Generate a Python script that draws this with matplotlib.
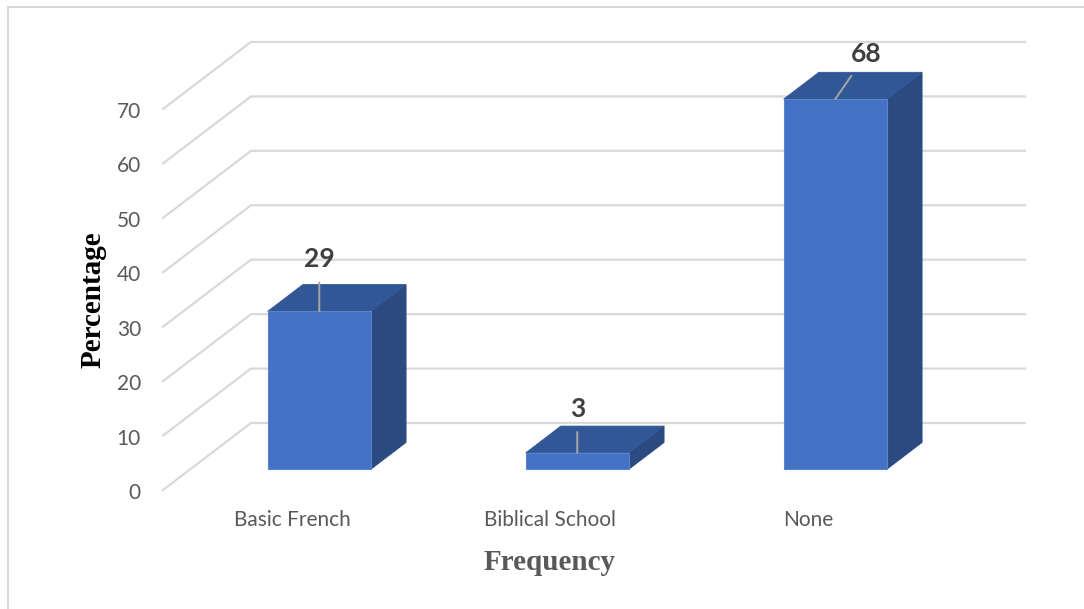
import matplotlib
matplotlib.use("Agg")
import matplotlib.pyplot as plt
from matplotlib.patches import Polygon
from matplotlib.lines import Line2D

# --- data ---
categories = ["Basic French", "Biblical School", "None"]
values = [29, 3, 68]
y_ticks = [0, 10, 20, 30, 40, 50, 60, 70]
x_title = "Frequency"
y_title = "Percentage"

# --- styling ---
FRONT = "#4472C4"
TOP = "#325796"
SIDE = "#2B4A80"
GRID = "#D9D9D9"
TEXT = "#595959"
LABEL = "#404040"

# oblique projection of the depth axis, in data units
DEPTH_DX = 0.341      # x shift for full depth
DEPTH_DY = 12.31      # value shift for full depth
BAR_W = 0.40          # bar width in category units
D0, D1 = 0.31, 0.71   # bar front/back depth fractions

W, H = 1084, 609
fig = plt.figure(figsize=(W / 100, H / 100), dpi=100)
ax = fig.add_axes([0, 0, 1, 1])
px_x = 258.0          # pixels per category
px_v = 5.443          # pixels per value unit
x0_px, v0_px = 292.0, H - 490.0
ax.set_xlim(-x0_px / px_x, (W - x0_px) / px_x)
ax.set_ylim(-v0_px / px_v, (H - v0_px) / px_v)
ax.axis("off")


def proj(x, v, d):
    return (x + d * DEPTH_DX, v + d * DEPTH_DY)


n = len(categories)
xl, xr = -0.5, n - 0.5

# outer frame (left and top edges)
fig.add_artist(Line2D([8 / W, 8 / W], [0, 1 - 7 / H], transform=fig.transFigure,
                      color="#D9D9D9", lw=1.5))
fig.add_artist(Line2D([8 / W, 1], [1 - 7 / H, 1 - 7 / H], transform=fig.transFigure,
                      color="#D9D9D9", lw=1.5))

# gridlines on side wall and back wall
for t in y_ticks:
    a = proj(xl, t, 0)
    b = proj(xl, t, 1)
    c = proj(xr, t, 1)
    ax.plot([a[0], b[0], c[0]], [a[1], b[1], c[1]], color=GRID, lw=1.6,
            solid_joinstyle="miter", zorder=1)
    ax.annotate(str(t), xy=a, xytext=(-22, -3), textcoords="offset pixels",
                ha="right", va="center", fontsize=15, color=TEXT,
                family="Lato")

# 3D bars
for i, v in enumerate(values):
    x_a, x_b = i - BAR_W / 2, i + BAR_W / 2
    front = [proj(x_a, 0, D0), proj(x_b, 0, D0), proj(x_b, v, D0), proj(x_a, v, D0)]
    top = [proj(x_a, v, D0), proj(x_b, v, D0), proj(x_b, v, D1), proj(x_a, v, D1)]
    side = [proj(x_b, 0, D0), proj(x_b, 0, D1), proj(x_b, v, D1), proj(x_b, v, D0)]
    ec = "#5A83CC"
    ax.add_patch(Polygon(side, closed=True, fc=SIDE, ec=SIDE, lw=0.6, zorder=3))
    ax.add_patch(Polygon(top, closed=True, fc=TOP, ec=TOP, lw=0.6, zorder=3))
    ax.add_patch(Polygon(front, closed=True, fc=FRONT, ec=ec, lw=0.8, zorder=4))

    # category label
    ax.annotate(categories[i], xy=proj(i, 0, 0), xytext=(0, -30),
                textcoords="offset pixels", ha="center", va="center",
                fontsize=15, color=TEXT, family="Lato")

# value labels with leader lines
label_offsets = [(0, 52), (0, 44), (31, 45)]
for i, v in enumerate(values):
    anchor = proj(i, v, D0)
    dx, dy = label_offsets[i]
    ax.annotate(str(v), xy=anchor, xytext=(dx, dy), textcoords="offset pixels",
                ha="center", va="center", fontsize=19, fontweight="bold",
                color=LABEL, family="Lato", zorder=6,
                arrowprops=dict(arrowstyle="-", color="#A6A6A6", lw=1.4,
                                shrinkA=6, shrinkB=0))

# axis titles
fig.text(550 / W, 1 - 562 / H, x_title, ha="center", va="center",
         fontsize=21, fontweight="bold", color=TEXT, family="Liberation Serif")
fig.text(93 / W, 1 - 300 / H, y_title, ha="center", va="center", rotation=90,
         fontsize=21, fontweight="bold", color="black", family="Liberation Serif")

fig.savefig("out.png", dpi=100)
